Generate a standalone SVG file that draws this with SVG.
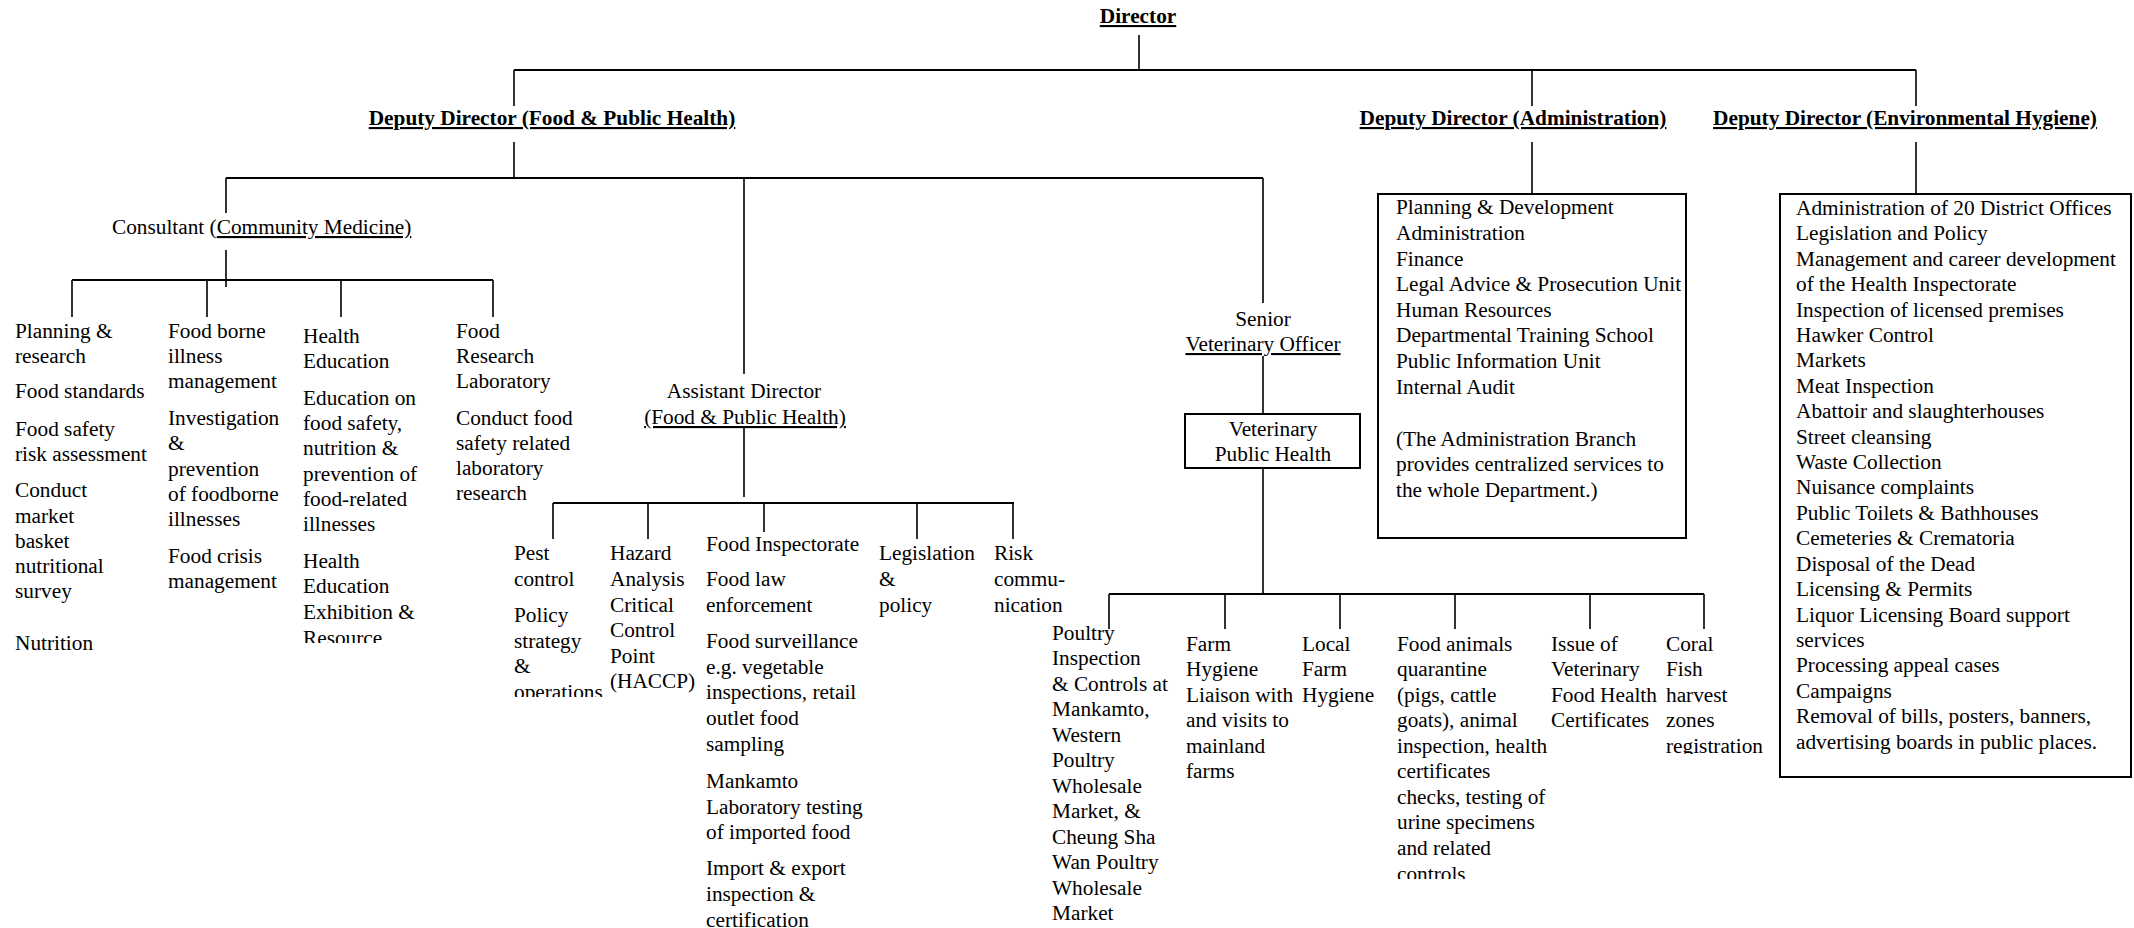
<svg xmlns="http://www.w3.org/2000/svg" width="2134" height="928" viewBox="0 0 2134 928">
  <style>
    .t { font-family: "Liberation Serif", "Times New Roman", serif; font-size: 21.3px; fill: #000; }
    .b { font-weight: bold; text-decoration: underline; }
    .c { text-anchor: middle; }
    .u { text-decoration: underline; }
    .ln { stroke: #000; stroke-width: 2; fill: none; }
    .v { stroke: #000; stroke-width: 1.6; fill: none; }
    .box { stroke: #000; stroke-width: 2; fill: #fff; }
  </style>
  <defs>
    <clipPath id="clipHealthEd"><rect x="290" y="320" width="140" height="323"/></clipPath>
    <clipPath id="clipPest"><rect x="500" y="540" width="108" height="157"/></clipPath>
    <clipPath id="clipAnimals"><rect x="1390" y="630" width="160" height="249"/></clipPath>
    <clipPath id="clipCoral"><rect x="1660" y="630" width="140" height="124"/></clipPath>
  </defs>
  <rect width="2134" height="928" fill="#fff"/>

  <!-- connectors -->
  <g id="connectors">
    <path class="v" d="M1139,35 V70"/>
    <path class="ln" d="M514,70 H1916"/>
    <path class="v" d="M514,70 V106 M1532,70 V106 M1916,70 V106"/>
    <path class="v" d="M514,142 V178"/>
    <path class="ln" d="M226,178 H1263"/>
    <path class="v" d="M226,178 V213 M744,178 V374 M1263,178 V303"/>
    <path class="v" d="M226,250 V287"/>
    <path class="ln" d="M72,280 H493"/>
    <path class="v" d="M72,280 V317 M207,280 V317 M341,280 V317 M493,280 V317"/>
    <path class="v" d="M744,426 V497"/>
    <path class="ln" d="M553,503 H1014"/>
    <path class="v" d="M553,503 V539 M648,503 V539 M764,503 V532 M917,503 V539 M1013,503 V539"/>
    <path class="v" d="M1532,142 V194 M1916,142 V194"/>
    <path class="v" d="M1263,356 V413"/>
    <path class="v" d="M1263,468 V594"/>
    <path class="ln" d="M1109,594 H1704"/>
    <path class="v" d="M1109,594 V629 M1225,594 V629 M1340,594 V629 M1455,594 V629 M1590,594 V629 M1704,594 V629"/>
  </g>

  <!-- top level -->
  <g id="director">
    <text class="t b c" x="1138" y="23">Director</text>
  </g>
  <g id="dd-food">
    <text class="t b c" x="552" y="125">Deputy Director (Food &amp; Public Health)</text>
  </g>
  <g id="dd-admin">
    <text class="t b c" x="1513" y="125">Deputy Director (Administration)</text>
  </g>
  <g id="dd-env">
    <text class="t b c" x="1905" y="125">Deputy Director (Environmental Hygiene)</text>
  </g>

  <!-- community medicine branch -->
  <g id="consultant">
    <text class="t" x="112" y="234">Consultant (<tspan class="u">Community Medicine)</tspan></text>
  </g>
  <g id="planning">
    <text class="t" x="15" y="338">Planning &amp;</text>
    <text class="t" x="15" y="363">research</text>
    <text class="t" x="15" y="398">Food standards</text>
    <text class="t" x="15" y="436">Food safety</text>
    <text class="t" x="15" y="461">risk assessment</text>
    <text class="t" x="15" y="497">Conduct</text>
    <text class="t" x="15" y="523">market</text>
    <text class="t" x="15" y="548">basket</text>
    <text class="t" x="15" y="573">nutritional</text>
    <text class="t" x="15" y="598">survey</text>
    <text class="t" x="15" y="650">Nutrition</text>
  </g>
  <g id="foodborne">
    <text class="t" x="168" y="338">Food borne</text>
    <text class="t" x="168" y="363">illness</text>
    <text class="t" x="168" y="388">management</text>
    <text class="t" x="168" y="425">Investigation</text>
    <text class="t" x="168" y="450">&amp;</text>
    <text class="t" x="168" y="476">prevention</text>
    <text class="t" x="168" y="501">of foodborne</text>
    <text class="t" x="168" y="526">illnesses</text>
    <text class="t" x="168" y="563">Food crisis</text>
    <text class="t" x="168" y="588">management</text>
  </g>
  <g id="health-education" clip-path="url(#clipHealthEd)">
    <text class="t" x="303" y="343">Health</text>
    <text class="t" x="303" y="368">Education</text>
    <text class="t" x="303" y="405">Education on</text>
    <text class="t" x="303" y="430">food safety,</text>
    <text class="t" x="303" y="455">nutrition &amp;</text>
    <text class="t" x="303" y="481">prevention of</text>
    <text class="t" x="303" y="506">food-related</text>
    <text class="t" x="303" y="531">illnesses</text>
    <text class="t" x="303" y="568">Health</text>
    <text class="t" x="303" y="593">Education</text>
    <text class="t" x="303" y="619">Exhibition &amp;</text>
    <text class="t" x="303" y="645">Resource</text>
  </g>
  <g id="food-research">
    <text class="t" x="456" y="338">Food</text>
    <text class="t" x="456" y="363">Research</text>
    <text class="t" x="456" y="388">Laboratory</text>
    <text class="t" x="456" y="425">Conduct food</text>
    <text class="t" x="456" y="450">safety related</text>
    <text class="t" x="456" y="475">laboratory</text>
    <text class="t" x="456" y="500">research</text>
  </g>

  <!-- assistant director branch -->
  <g id="assistant-director">
    <text class="t c" x="744" y="398">Assistant Director</text>
    <text class="t c u" x="745" y="424">(Food &amp; Public Health)</text>
  </g>
  <g id="pest" clip-path="url(#clipPest)">
    <text class="t" x="514" y="560">Pest</text>
    <text class="t" x="514" y="586">control</text>
    <text class="t" x="514" y="622">Policy</text>
    <text class="t" x="514" y="648">strategy</text>
    <text class="t" x="514" y="673">&amp;</text>
    <text class="t" x="514" y="699">operations</text>
  </g>
  <g id="haccp">
    <text class="t" x="610" y="560">Hazard</text>
    <text class="t" x="610" y="586">Analysis</text>
    <text class="t" x="610" y="612">Critical</text>
    <text class="t" x="610" y="637">Control</text>
    <text class="t" x="610" y="663">Point</text>
    <text class="t" x="610" y="688">(HACCP)</text>
  </g>
  <g id="food-inspectorate">
    <text class="t" x="706" y="551">Food Inspectorate</text>
    <text class="t" x="706" y="586">Food law</text>
    <text class="t" x="706" y="612">enforcement</text>
    <text class="t" x="706" y="648">Food surveillance</text>
    <text class="t" x="706" y="674">e.g. vegetable</text>
    <text class="t" x="706" y="699">inspections, retail</text>
    <text class="t" x="706" y="725">outlet food</text>
    <text class="t" x="706" y="751">sampling</text>
    <text class="t" x="706" y="788">Mankamto</text>
    <text class="t" x="706" y="814">Laboratory testing</text>
    <text class="t" x="706" y="839">of imported food</text>
    <text class="t" x="706" y="875">Import &amp; export</text>
    <text class="t" x="706" y="901">inspection &amp;</text>
    <text class="t" x="706" y="927">certification</text>
  </g>
  <g id="legislation">
    <text class="t" x="879" y="560">Legislation</text>
    <text class="t" x="879" y="586">&amp;</text>
    <text class="t" x="879" y="612">policy</text>
  </g>
  <g id="risk">
    <text class="t" x="994" y="560">Risk</text>
    <text class="t" x="994" y="586">commu-</text>
    <text class="t" x="994" y="612">nication</text>
  </g>

  <!-- veterinary branch -->
  <g id="senior-vet">
    <text class="t c" x="1263" y="326">Senior</text>
    <text class="t c u" x="1263" y="351">Veterinary Officer</text>
  </g>
  <g id="vph">
    <rect class="box" x="1185" y="414" width="175" height="54"/>
    <text class="t c" x="1273" y="436">Veterinary</text>
    <text class="t c" x="1273" y="461">Public Health</text>
  </g>
  <g id="poultry">
    <text class="t" x="1052" y="640">Poultry</text>
    <text class="t" x="1052" y="665">Inspection</text>
    <text class="t" x="1052" y="691">&amp; Controls at</text>
    <text class="t" x="1052" y="716">Mankamto,</text>
    <text class="t" x="1052" y="742">Western</text>
    <text class="t" x="1052" y="767">Poultry</text>
    <text class="t" x="1052" y="793">Wholesale</text>
    <text class="t" x="1052" y="818">Market, &amp;</text>
    <text class="t" x="1052" y="844">Cheung Sha</text>
    <text class="t" x="1052" y="869">Wan Poultry</text>
    <text class="t" x="1052" y="895">Wholesale</text>
    <text class="t" x="1052" y="920">Market</text>
  </g>
  <g id="farm-hygiene">
    <text class="t" x="1186" y="651">Farm</text>
    <text class="t" x="1186" y="676">Hygiene</text>
    <text class="t" x="1186" y="702">Liaison with</text>
    <text class="t" x="1186" y="727">and visits to</text>
    <text class="t" x="1186" y="753">mainland</text>
    <text class="t" x="1186" y="778">farms</text>
  </g>
  <g id="local-farm">
    <text class="t" x="1302" y="651">Local</text>
    <text class="t" x="1302" y="676">Farm</text>
    <text class="t" x="1302" y="702">Hygiene</text>
  </g>
  <g id="food-animals" clip-path="url(#clipAnimals)">
    <text class="t" x="1397" y="651">Food animals</text>
    <text class="t" x="1397" y="676">quarantine</text>
    <text class="t" x="1397" y="702">(pigs, cattle</text>
    <text class="t" x="1397" y="727">goats), animal</text>
    <text class="t" x="1397" y="753">inspection, health</text>
    <text class="t" x="1397" y="778">certificates</text>
    <text class="t" x="1397" y="804">checks, testing of</text>
    <text class="t" x="1397" y="829">urine specimens</text>
    <text class="t" x="1397" y="855">and related</text>
    <text class="t" x="1397" y="881">controls</text>
  </g>
  <g id="vet-certs">
    <text class="t" x="1551" y="651">Issue of</text>
    <text class="t" x="1551" y="676">Veterinary</text>
    <text class="t" x="1551" y="702">Food Health</text>
    <text class="t" x="1551" y="727">Certificates</text>
  </g>
  <g id="coral-fish" clip-path="url(#clipCoral)">
    <text class="t" x="1666" y="651">Coral</text>
    <text class="t" x="1666" y="676">Fish</text>
    <text class="t" x="1666" y="702">harvest</text>
    <text class="t" x="1666" y="727">zones</text>
    <text class="t" x="1666" y="753">registration</text>
  </g>

  <!-- administration box -->
  <g id="admin-box">
    <rect class="box" x="1378" y="194" width="308" height="344"/>
    <text class="t" x="1396" y="214">Planning &amp; Development</text>
    <text class="t" x="1396" y="240">Administration</text>
    <text class="t" x="1396" y="266">Finance</text>
    <text class="t" x="1396" y="291">Legal Advice &amp; Prosecution Unit</text>
    <text class="t" x="1396" y="317">Human Resources</text>
    <text class="t" x="1396" y="342">Departmental Training School</text>
    <text class="t" x="1396" y="368">Public Information Unit</text>
    <text class="t" x="1396" y="394">Internal Audit</text>
    <text class="t" x="1396" y="446">(The Administration Branch</text>
    <text class="t" x="1396" y="471">provides centralized services to</text>
    <text class="t" x="1396" y="497">the whole Department.)</text>
  </g>

  <!-- environmental hygiene box -->
  <g id="env-box">
    <rect class="box" x="1780" y="194" width="351" height="583"/>
    <text class="t" x="1796" y="215">Administration of 20 District Offices</text>
    <text class="t" x="1796" y="240">Legislation and Policy</text>
    <text class="t" x="1796" y="266">Management and career development</text>
    <text class="t" x="1796" y="291">of the Health Inspectorate</text>
    <text class="t" x="1796" y="317">Inspection of licensed premises</text>
    <text class="t" x="1796" y="342">Hawker Control</text>
    <text class="t" x="1796" y="367">Markets</text>
    <text class="t" x="1796" y="393">Meat Inspection</text>
    <text class="t" x="1796" y="418">Abattoir and slaughterhouses</text>
    <text class="t" x="1796" y="444">Street cleansing</text>
    <text class="t" x="1796" y="469">Waste Collection</text>
    <text class="t" x="1796" y="494">Nuisance complaints</text>
    <text class="t" x="1796" y="520">Public Toilets &amp; Bathhouses</text>
    <text class="t" x="1796" y="545">Cemeteries &amp; Crematoria</text>
    <text class="t" x="1796" y="571">Disposal of the Dead</text>
    <text class="t" x="1796" y="596">Licensing &amp; Permits</text>
    <text class="t" x="1796" y="622">Liquor Licensing Board support</text>
    <text class="t" x="1796" y="647">services</text>
    <text class="t" x="1796" y="672">Processing appeal cases</text>
    <text class="t" x="1796" y="698">Campaigns</text>
    <text class="t" x="1796" y="723">Removal of bills, posters, banners,</text>
    <text class="t" x="1796" y="749">advertising boards in public places.</text>
  </g>
</svg>
